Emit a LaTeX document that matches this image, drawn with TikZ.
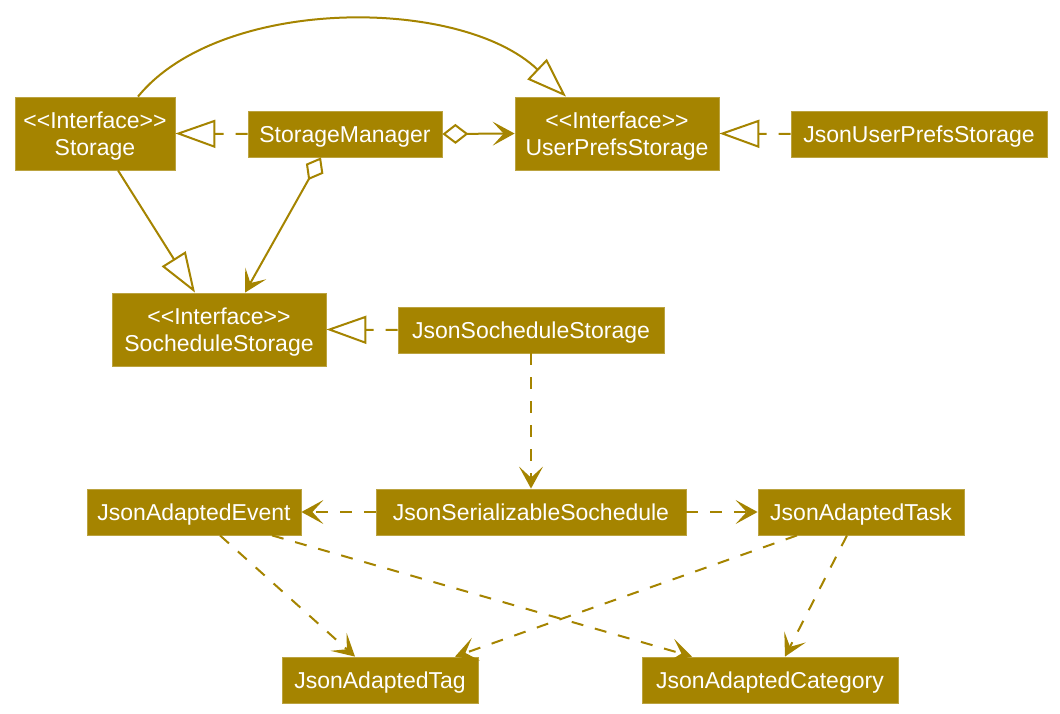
\documentclass[tikz,border=0pt]{standalone}
\usepackage{fontspec}
\setmainfont{Liberation Sans}
\usepackage{tikz}
\usetikzlibrary{arrows.meta}
\definecolor{umlgold}{RGB}{165,132,0}

\tikzset{
  cls/.style={fill=umlgold,draw=umlgold!75!white,line width=0.8,text=white,
    font=\fontsize{23}{27}\selectfont,align=center,
    inner xsep=0pt,inner ysep=0pt,minimum height=46pt,
    text height=17pt,text depth=0pt},
  iface/.style={cls,minimum height=73pt,text height=44pt},
  link/.style={draw=umlgold,line width=2},
  dep/.style={link,dash pattern=on 12pt off 12pt},
  inherit/.style={-{Triangle[open,length=40pt,width=28pt,fill=white]}},
  uses/.style={-{Stealth[length=22pt,width=24pt,inset=11pt]}},
  owns/.style={{Diamond[open,length=26pt,width=20pt,fill=white]}-{Stealth[length=22pt,width=24pt,inset=11pt]}}
}

\begin{document}
\begin{tikzpicture}[x=1pt,y=-1pt]

    \useasboundingbox (0,0) rectangle (1060,714);

    % storage layer
    \node[iface,minimum width=160pt] (st) at (95,133.5) {<{}<Interface>{}>\\Storage};
    \node[cls,minimum width=194pt] (sm) at (345,134) {StorageManager};
    \node[iface,minimum width=204pt] (ups) at (617,133.5) {<{}<Interface>{}>\\UserPrefsStorage};
    \node[cls,minimum width=256pt] (jups) at (919,134) {JsonUserPrefsStorage};

    \node[iface,minimum width=214pt] (ss) at (219,329.5) {<{}<Interface>{}>\\SocheduleStorage};
    \node[cls,minimum width=266pt] (jss) at (531,330) {JsonSocheduleStorage};

    % json classes
    \node[cls,minimum width=310pt] (ser) at (531,512) {JsonSerializableSochedule};
    \node[cls,minimum width=214pt] (ev) at (194,512) {JsonAdaptedEvent};
    \node[cls,minimum width=206pt] (task) at (861,512) {JsonAdaptedTask};
    \node[cls,minimum width=196pt] (tag) at (380,680) {JsonAdaptedTag};
    \node[cls,minimum width=256pt] (cat) at (770,680) {JsonAdaptedCategory};

    % generalisation and realisation
    \draw[link,inherit] ([xshift=43pt]st.north)
      .. controls (220,-4) and (460,-4) .. ([xshift=-51pt]ups.north);
    \draw[link,inherit] ([xshift=23pt]st.south) -- ([xshift=-24pt]ss.north);
    \draw[dep,inherit] (sm.west) -- (st.east);
    \draw[dep,inherit] (jups.west) -- (ups.east);
    \draw[dep,inherit] (jss.west) -- (ss.east);

    % aggregation
    \draw[link,owns] (sm.east) -- (ups.west);
    \draw[link,owns] ([xshift=-24pt]sm.south) -- ([xshift=26pt]ss.north);

    % dependencies
    \draw[dep,uses] (jss.south) -- (ser.north);
    \draw[dep,uses] (ser.west) -- (ev.east);
    \draw[dep,uses] (ser.east) -- (task.west);
    \draw[dep,uses] ([xshift=26pt]ev.south) -- ([xshift=-25pt]tag.north);
    \draw[dep,uses] ([xshift=78pt]ev.south) -- ([xshift=-78pt]cat.north);
    \draw[dep,uses] ([xshift=-64pt]task.south) -- ([xshift=75pt]tag.north);
    \draw[dep,uses] ([xshift=-14pt]task.south) -- ([xshift=15pt]cat.north);

\end{tikzpicture}
\end{document}
